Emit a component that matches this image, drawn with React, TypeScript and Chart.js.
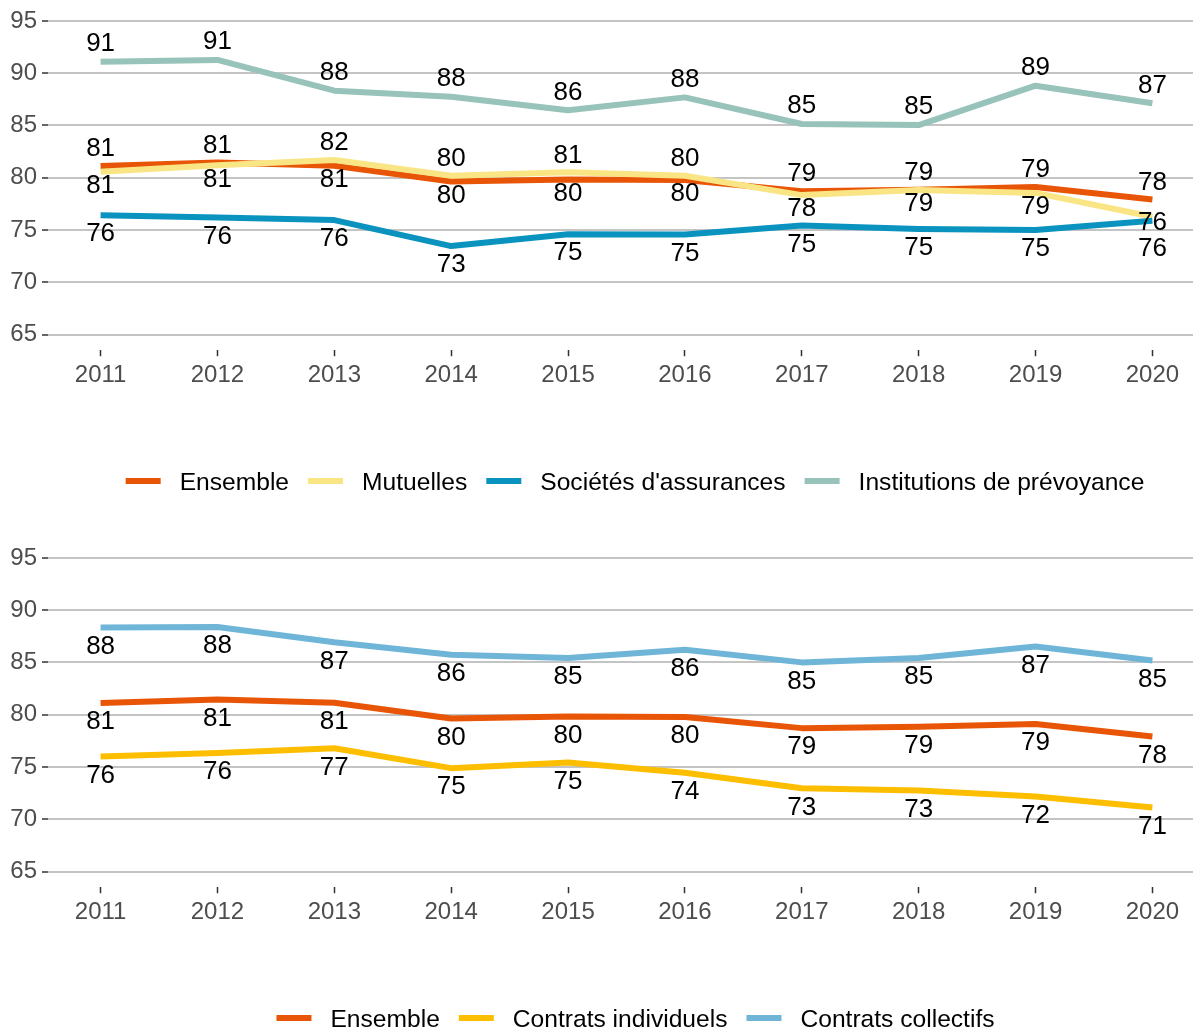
import React, { useEffect, useRef } from "react";
import { Chart, registerables } from "chart.js";

Chart.register(...registerables);

const FONT = '"Liberation Sans", Arial, sans-serif';

const years = [2011, 2012, 2013, 2014, 2015, 2016, 2017, 2018, 2019, 2020];
const yTicks = [65, 70, 75, 80, 85, 90, 95];

// Top chart (by organism type)
const ensemble = [81.12, 81.45, 81.15, 79.65, 79.84, 79.78, 78.72, 78.86, 79.12, 77.92];
const mutuelles = [80.57, 81.2, 81.7, 80.19, 80.52, 80.19, 78.34, 78.82, 78.55, 76.27];
const societes = [76.42, 76.2, 75.95, 73.46, 74.6, 74.57, 75.43, 75.1, 74.99, 75.88];
const institutions = [91.1, 91.27, 88.33, 87.75, 86.45, 87.69, 85.14, 85.04, 88.81, 87.12];

// Bottom chart (by contract type)
const individuels = [76.01, 76.33, 76.8, 74.89, 75.43, 74.45, 72.97, 72.75, 72.18, 71.12];
const collectifs = [88.36, 88.4, 86.93, 85.74, 85.42, 86.22, 85.01, 85.42, 86.54, 85.2];

type Mode = "above" | "below" | "pair";
type Series = { name: string; values: number[]; color: string; mode: Mode; order: number };

const topSeries: Series[] = [
  { name: "Ensemble", values: ensemble, color: "#E85506", mode: "pair", order: 4 },
  { name: "Mutuelles", values: mutuelles, color: "#FAE584", mode: "pair", order: 3 },
  { name: "Sociétés d'assurances", values: societes, color: "#0A93BE", mode: "below", order: 2 },
  { name: "Institutions de prévoyance", values: institutions, color: "#97C3BA", mode: "above", order: 1 },
];

const bottomSeries: Series[] = [
  { name: "Ensemble", values: ensemble, color: "#E85506", mode: "below", order: 3 },
  { name: "Contrats individuels", values: individuels, color: "#FDBE00", mode: "below", order: 2 },
  { name: "Contrats collectifs", values: collectifs, color: "#6FB5D8", mode: "below", order: 1 },
];

const LABEL_SIZE = 26;

const labelPlugin = {
  id: "valueLabels",
  afterDatasetsDraw(chart: any) {
    const ctx = chart.ctx;
    const dss = chart.data.datasets;
    const groups: Record<number, { x: number; y: number; t: string }[]> = {};
    dss.forEach((ds: any, di: number) => {
      const meta = chart.getDatasetMeta(di);
      meta.data.forEach((pt: any, i: number) => {
        const v = ds.data[i].y;
        let cy: number;
        if (ds.labelMode === "above") cy = pt.y - 20;
        else if (ds.labelMode === "below") cy = pt.y + 17;
        else {
          const pj = dss.findIndex((d: any, j: number) => j !== di && d.labelMode === "pair");
          const pv = dss[pj].data[i].y;
          const higher = v > pv || (v === pv && di < pj);
          cy = higher ? pt.y - 19 : pt.y + 12;
        }
        (groups[i] = groups[i] || []).push({ x: pt.x, y: cy, t: String(Math.round(v)) });
      });
    });
    ctx.save();
    ctx.font = `${LABEL_SIZE}px ${FONT}`;
    ctx.fillStyle = "#000";
    ctx.textAlign = "center";
    ctx.textBaseline = "alphabetic";
    Object.values(groups).forEach((g) => {
      g.sort((a, b) => a.y - b.y);
      for (let k = 0; k < g.length - 1; k++) {
        const a = g[k], b = g[k + 1];
        const d = b.y - a.y;
        if (d < 26) {
          const mid = (a.y + b.y) / 2;
          a.y = mid - 13;
          b.y = mid + 13;
        }
      }
      g.forEach((l) => ctx.fillText(l.t, l.x, l.y + 0.358 * LABEL_SIZE));
    });
    ctx.restore();
  },
};

function makeLegendPlugin(center: number, y: number) {
  return {
    id: "customLegend",
    afterDraw(chart: any) {
      const ctx = chart.ctx;
      ctx.save();
      ctx.font = `24.6px ${FONT}`;
      const keyW = 35, g1 = 19, g2 = 19;
      const items = chart.data.datasets.map((d: any) => ({
        text: d.label,
        color: d.borderColor,
        w: ctx.measureText(d.label).width,
      }));
      let total = 0;
      items.forEach((it: any, i: number) => {
        total += keyW + g1 + it.w + (i > 0 ? g2 : 0);
      });
      let x = center - total / 2;
      ctx.textBaseline = "alphabetic";
      ctx.textAlign = "left";
      items.forEach((it: any) => {
        ctx.fillStyle = it.color;
        ctx.fillRect(x, y - 3, keyW, 6);
        x += keyW + g1;
        ctx.fillStyle = "#000";
        ctx.fillText(it.text, x, y + 0.358 * 24.6);
        x += it.w + g2;
      });
      ctx.restore();
    },
  };
}

function Panel({ series, visibleHeight, legendCenter }: { series: Series[]; visibleHeight: number; legendCenter: number }) {
  const ref = useRef<HTMLCanvasElement>(null);
  useEffect(() => {
    const canvas = ref.current!;
    const chart = new Chart(canvas, {
      type: "line",
      data: {
        datasets: series.map((s) => ({
          label: s.name,
          data: years.map((x, i) => ({ x, y: s.values[i] })),
          borderColor: s.color,
          backgroundColor: s.color,
          borderWidth: 6,
          pointRadius: 0,
          pointHoverRadius: 0,
          fill: false,
          tension: 0,
          borderJoinStyle: "round",
          order: s.order,
          labelMode: s.mode,
        })) as any,
      },
      options: {
        responsive: false,
        animation: false,
        events: [],
        layout: { padding: { top: 5.3, bottom: 146.8, left: 0, right: 0 } },
        plugins: { legend: { display: false }, tooltip: { enabled: false } },
        scales: {
          x: {
            type: "linear",
            min: 2010.55,
            max: 2020.45,
            afterBuildTicks: (s: any) => {
              s.ticks = years.map((v) => ({ value: v }));
            },
            afterFit: (s: any) => {
              s.height = 40;
              s.paddingLeft = 0;
              s.paddingRight = 0;
            },
            grid: { drawOnChartArea: false, drawTicks: true, tickLength: 6, tickColor: "#333", tickWidth: 1.5 },
            border: { display: false },
            ticks: {
              color: "#4D4D4D",
              font: { family: FONT, size: 24 },
              padding: 5,
              maxRotation: 0,
              autoSkip: false,
              callback: (v: any) => String(v),
            },
          },
          y: {
            type: "linear",
            min: 63.5,
            max: 96.5,
            afterBuildTicks: (s: any) => {
              s.ticks = yTicks.map((v) => ({ value: v }));
            },
            afterFit: (s: any) => {
              s.width = 48;
              s.paddingTop = 0;
              s.paddingBottom = 0;
            },
            grid: { color: "#C4C4C4", lineWidth: 2, tickLength: 6, tickColor: "#333", tickWidth: 1.5 },
            border: { display: false },
            ticks: {
              color: "#4D4D4D",
              font: { family: FONT, size: 24 },
              padding: 5,
              callback: (v: any) => String(v),
            },
          },
        },
      } as any,
      plugins: [labelPlugin, makeLegendPlugin(legendCenter, 481)],
    });
    return () => chart.destroy();
  }, []);
  return (
    <div style={{ width: 1193, height: visibleHeight, overflow: "hidden", position: "relative" }}>
      <canvas ref={ref} width={1205} height={537} style={{ display: "block", width: 1205, height: 537 }} />
    </div>
  );
}

export default function App() {
  return (
    <div style={{ position: "fixed", top: 0, left: 0, width: 1193, height: 1029, overflow: "hidden", background: "#fff" }}>
      <Panel series={topSeries} visibleHeight={537} legendCenter={635} />
      <Panel series={bottomSeries} visibleHeight={492} legendCenter={635.5} />
    </div>
  );
}
